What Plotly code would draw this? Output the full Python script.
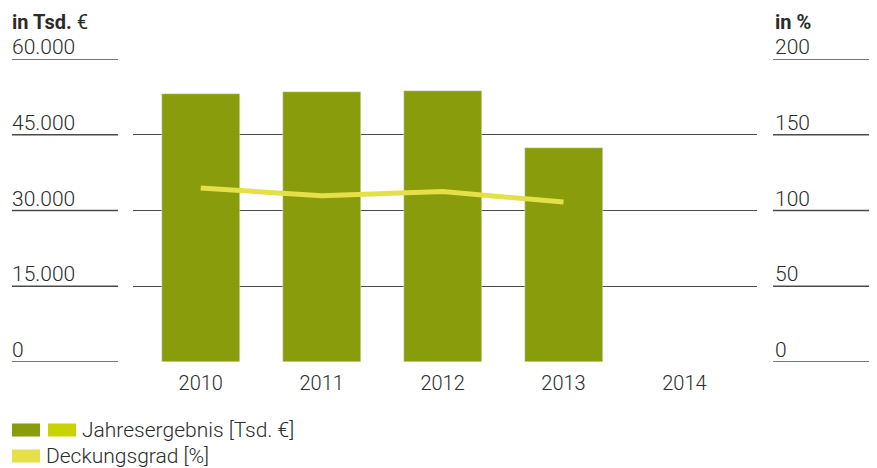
import plotly.graph_objects as go

# data
years = ["2010", "2011", "2012", "2013", "2014"]
jahresergebnis = [53100, 53500, 53700, 42400, None]   # Tsd. €
deckungsgrad = [114.8, 109.8, 112.5, 105.6, None]      # %
left_ticks = [0, 15000, 30000, 45000, 60000]
left_labels = ["0", "15.000", "30.000", "45.000", "60.000"]
right_ticks = [0, 50, 100, 150, 200]

# the page body adds an 8px margin, so the figure is laid out 8px smaller
OFF = 8
W, H = 877 - OFF, 468 - OFF
ML, MT = 133 - OFF, 59 - OFF
PW, PH = 624, 303
MR, MB = W - ML - PW, H - MT - PH

BAR = "#889c0c"
BAR2 = "#c8d400"
LINE = "#e6e048"
TXT = "#2b2b2b"
GRID = "#4a4a4a"
FONT = "Roboto, 'Liberation Sans', Arial, sans-serif"


def px_x(p):
    # page pixel -> paper x
    return (p - OFF - ML) / PW


def px_y(p):
    # page pixel -> paper y
    return (MT + PH - (p - OFF)) / PH


fig = go.Figure()
fig.add_trace(go.Bar(x=list(range(len(years))), y=jahresergebnis, marker_color=BAR,
                     width=0.645, name="Jahresergebnis [Tsd. €]", showlegend=False))
fig.add_trace(go.Scatter(x=list(range(len(years))), y=deckungsgrad, yaxis="y2",
                         mode="lines", line=dict(color=LINE, width=5),
                         name="Deckungsgrad [%]", showlegend=False))

shapes = []
annotations = []
for v, lab, r in zip(left_ticks, left_labels, right_ticks):
    # short underlines below the tick labels on both sides
    shapes.append(dict(type="line", xref="paper", yref="y", x0=px_x(12), x1=px_x(118),
                       y0=v, y1=v, line=dict(color=GRID, width=1.3)))
    shapes.append(dict(type="line", xref="paper", yref="y", x0=px_x(773), x1=px_x(877),
                       y0=v, y1=v, line=dict(color=GRID, width=1.3)))
    annotations.append(dict(text=lab, xref="paper", yref="y", x=px_x(10), y=v,
                            xanchor="left", yanchor="bottom", showarrow=False, yshift=-2,
                            font=dict(size=21, color=TXT, family=FONT, weight=300)))
    annotations.append(dict(text=str(r), xref="paper", yref="y", x=px_x(773), y=v,
                            xanchor="left", yanchor="bottom", showarrow=False, yshift=-2,
                            font=dict(size=21, color=TXT, family=FONT, weight=300)))

# axis headers, anchored to the top edge of the figure
annotations.append(dict(text="<b>in Tsd.</b> €", xref="paper", yref="paper",
                        x=px_x(10), y=px_y(OFF), xanchor="left", yanchor="top",
                        showarrow=False, font=dict(size=20, color=TXT, family=FONT)))
annotations.append(dict(text="<b>in %</b>", xref="paper", yref="paper",
                        x=px_x(773), y=px_y(OFF), xanchor="left", yanchor="top",
                        showarrow=False, font=dict(size=20, color=TXT, family=FONT)))

# legend, drawn by hand (first entry has two swatches)
for x0, x1, yc, col in [(12, 40, 430, BAR), (48, 76, 430, BAR2), (12, 40, 456, LINE)]:
    shapes.append(dict(type="rect", xref="paper", yref="paper", x0=px_x(x0), x1=px_x(x1),
                       y0=px_y(yc - 6.5), y1=px_y(yc + 6.5), fillcolor=col, line_width=0))
annotations.append(dict(text="Jahresergebnis [Tsd. €]", xref="paper", yref="paper",
                        x=px_x(80), y=px_y(430), xanchor="left", yanchor="middle",
                        showarrow=False, font=dict(size=21, color=TXT, family=FONT, weight=300)))
annotations.append(dict(text="Deckungsgrad [%]", xref="paper", yref="paper",
                        x=px_x(44), y=px_y(456), xanchor="left", yanchor="middle",
                        showarrow=False, font=dict(size=21, color=TXT, family=FONT, weight=300)))

fig.update_layout(
    width=W, height=H,
    margin=dict(l=ML, r=MR, t=MT, b=MB),
    paper_bgcolor="white", plot_bgcolor="white",
    font=dict(family=FONT, color=TXT),
    bargap=0,
    xaxis=dict(range=[-0.56, 4.6], tickmode="array", tickvals=list(range(len(years))),
               ticktext=years, showgrid=False, zeroline=False, showline=False,
               ticks="", ticklabelstandoff=7,
               tickfont=dict(size=20, color=TXT, family=FONT, weight=300)),
    yaxis=dict(range=[0, 60000], tickvals=left_ticks, showticklabels=False,
               showgrid=True, gridcolor=GRID, gridwidth=1.3, zeroline=False),
    yaxis2=dict(range=[0, 200], overlaying="y", side="right", showgrid=False,
                showticklabels=False, zeroline=False),
    shapes=shapes,
    annotations=annotations,
)

fig.write_html("out.html")
